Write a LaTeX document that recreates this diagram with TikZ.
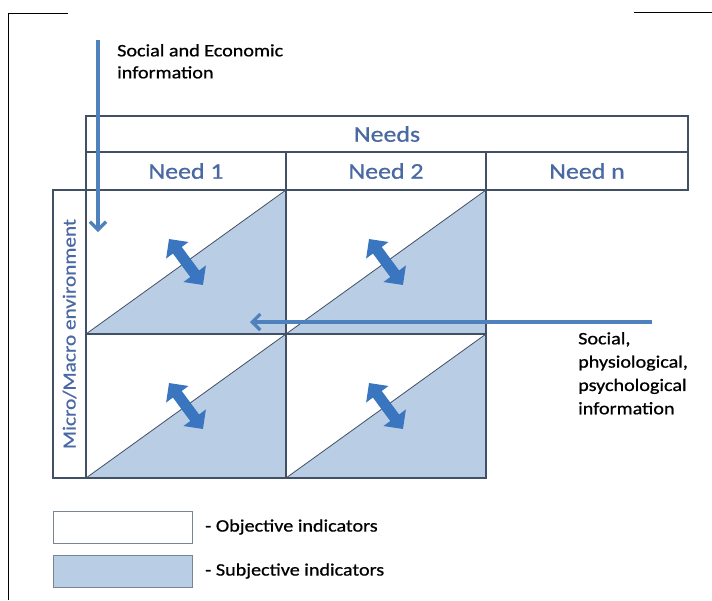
\documentclass[tikz,border=0pt]{standalone}
\usepackage{fontspec}
\setmainfont{Carlito}[FakeStretch=1.15,FakeBold=0.8]
\usepackage{tikz}
\usetikzlibrary{
	arrows.meta,
	positioning,
	backgrounds
}
\definecolor{gridline}{HTML}{425066}
\definecolor{legline}{HTML}{7A8494}
\definecolor{subjfill}{HTML}{B9CDE5}
\definecolor{infoblue}{HTML}{4F81BD}
\definecolor{swapblue}{HTML}{3A75C0}
\definecolor{needblue}{HTML}{4A69A3}

\begin{document}
\begin{tikzpicture}[
		x=1pt, y=-1pt,
		cell/.style={draw=gridline, line width=1.2pt, minimum width=200pt, minimum height=144pt, inner sep=0pt, outer sep=0pt},
		head/.style={draw=gridline, line width=1.2pt, minimum height=38pt, inner sep=0pt, outer sep=0pt, text=needblue, font=\fontsize{22.5}{26}\selectfont},
		envbox/.style={draw=gridline, line width=1.2pt, minimum width=288pt, minimum height=33pt, inner sep=0pt, outer sep=0pt, text=needblue, font=\fontsize{18.5}{22}\selectfont},
		swap/.style={draw=swapblue, line width=11pt, {Triangle[length=14pt,width=27pt]}-{Triangle[length=14pt,width=27pt]}},
		info/.style={draw=infoblue, line width=3.2pt, -{Straight Barb[length=8pt,width=16pt]}},
		txt/.style={align=left, inner sep=0pt, font=\fontsize{17.5}{22}\selectfont},
		legbox/.style={draw=legline, line width=1pt, minimum width=139pt, minimum height=32pt, inner sep=0pt, outer sep=0pt}
		]
		\useasboundingbox (0,0) rectangle (712,600);
		
		% =========================
		% Frame corners
		% =========================
		\draw[line width=0.8pt] (68,13) -- (8,13) -- (8,600);
		\draw[line width=0.8pt] (634,12) -- (712,12);
		
		% =========================
		% Needs header
		% =========================
		\node[head, minimum width=200pt] (need1) at (186,171) {Need 1};
		\node[head, minimum width=200pt, right=0pt of need1] (need2) {Need 2};
		\node[head, minimum width=202pt, right=0pt of need2] (needn) {Need n};
		\node[head, minimum width=602pt, minimum height=36pt, anchor=south west] (needs) at (need1.north west) {Needs};
		
		% =========================
		% Grid of cells
		% =========================
		\node[cell, below=0pt of need1] (c11) {};
		\node[cell, right=0pt of c11] (c12) {};
		\node[cell, below=0pt of c11] (c21) {};
		\node[cell, right=0pt of c21] (c22) {};
		\node[envbox, rotate=90] (env) at (69.5,334) {Micro/Macro environment};
		
		% subjective halves
		\begin{scope}[on background layer]
			\foreach \c in {c11,c12,c21,c22}
			\fill[subjfill] (\c.south west) -- (\c.north east) -- (\c.south east) -- cycle;
		\end{scope}
		\foreach \c in {c11,c12,c21,c22}
		\draw[gridline, line width=0.8pt] (\c.south west) -- (\c.north east);
		
		% exchange arrows
		\foreach \c in {c11,c12,c21,c22}
		\draw[swap] ([shift={(-17,-23)}]\c.center) -- ([shift={(17,23)}]\c.center);
		
		% =========================
		% Information flows
		% =========================
		\coordinate (socecon) at (98,40);
		\coordinate (socecon-end) at (98,232);
		\draw[info] (socecon) -- (socecon-end);
		\node[txt, anchor=north west] (socecon-label) at (117,44) {Social and Economic\\information};
		
		\coordinate (social) at (652,322);
		\coordinate (social-end) at (250,322);
		\draw[info] (social) -- (social-end);
		\node[txt, anchor=north west, font=\fontsize{17.5}{23.3}\selectfont] (social-label) at (578,332) {Social,\\physiological,\\psychological\\information};
		
		% =========================
		% Legend
		% =========================
		\node[legbox, fill=white, anchor=north west] (legobj) at (53,511) {};
		\node[legbox, fill=subjfill, below=12pt of legobj] (legsubj) {};
		\node[txt, right=13pt of legobj] (legobj-text) {- Objective indicators};
		\node[txt, right=13pt of legsubj] (legsubj-text) {- Subjective indicators};
		
	\end{tikzpicture}
\end{document}
